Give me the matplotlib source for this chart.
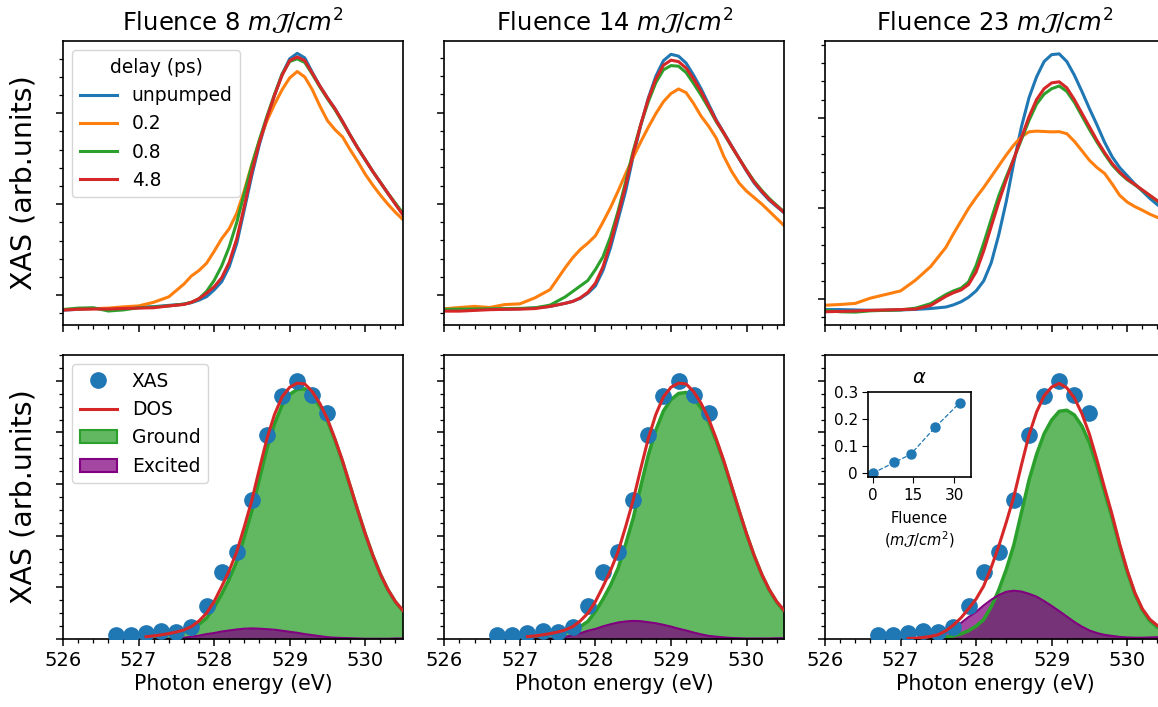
import matplotlib
matplotlib.use("Agg")
import numpy as np
import matplotlib.pyplot as plt
from matplotlib.ticker import MultipleLocator, NullFormatter, FixedLocator, FixedFormatter
from matplotlib.lines import Line2D
from matplotlib.patches import Patch

# ---------------------------------------------------------------- data
fluences = [8, 14, 23]
delay_labels = ["unpumped", "0.2", "0.8", "4.8"]
delay_colors = ["tab:blue", "tab:orange", "tab:green", "tab:red"]

# photon energy grid of the time-resolved spectra (eV)
energy = [526.0, 526.2, 526.4, 526.6, 526.8, 527.0, 527.2, 527.4, 527.6, 527.7,
          527.8, 527.9, 528.0, 528.1, 528.2, 528.3, 528.4, 528.5, 528.6, 528.7,
          528.8, 528.9, 529.0, 529.1, 529.2, 529.3, 529.4, 529.5, 529.6, 529.7,
          529.8, 529.9, 530.0, 530.1, 530.2, 530.3, 530.4, 530.5]

# fluence 8 mJ/cm2
f8_unpumped = [-0.083, -0.079, -0.074, -0.075, -0.073, -0.068, -0.064, -0.057, -0.050, -0.042,
               -0.028, -0.009, 0.028, 0.073, 0.156, 0.284, 0.470, 0.660, 0.830, 0.970,
               1.100, 1.215, 1.300, 1.330, 1.305, 1.225, 1.150, 1.085, 1.025, 0.955,
               0.880, 0.810, 0.745, 0.680, 0.620, 0.560, 0.500, 0.445]
f8_d02 = [-0.080, -0.077, -0.075, -0.072, -0.065, -0.060, -0.040, -0.010, 0.060, 0.105,
          0.135, 0.175, 0.240, 0.310, 0.365, 0.450, 0.575, 0.720, 0.850, 0.960,
          1.050, 1.130, 1.195, 1.230, 1.200, 1.130, 1.040, 0.960, 0.910, 0.870,
          0.800, 0.735, 0.665, 0.605, 0.550, 0.500, 0.455, 0.415]
f8_d08 = [-0.080, -0.072, -0.070, -0.088, -0.082, -0.070, -0.066, -0.060, -0.050, -0.040,
          -0.020, 0.020, 0.080, 0.160, 0.265, 0.400, 0.560, 0.715, 0.855, 0.985,
          1.105, 1.215, 1.285, 1.300, 1.280, 1.215, 1.145, 1.080, 1.020, 0.950,
          0.880, 0.810, 0.745, 0.680, 0.620, 0.560, 0.505, 0.450]
f8_d48 = [-0.083, -0.078, -0.077, -0.077, -0.074, -0.072, -0.070, -0.060, -0.052, -0.040,
          -0.020, 0.010, 0.045, 0.095, 0.180, 0.310, 0.490, 0.680, 0.840, 0.975,
          1.100, 1.210, 1.290, 1.310, 1.290, 1.220, 1.150, 1.085, 1.025, 0.955,
          0.880, 0.810, 0.745, 0.680, 0.620, 0.560, 0.500, 0.440]

# fluence 14 mJ/cm2
f14_unpumped = [-0.082, -0.080, -0.079, -0.078, -0.077, -0.075, -0.070, -0.062, -0.045, -0.034,
                -0.018, 0.010, 0.050, 0.135, 0.260, 0.415, 0.570, 0.760, 0.930, 1.080,
                1.200, 1.285, 1.320, 1.310, 1.272, 1.205, 1.130, 1.045, 0.960, 0.890,
                0.820, 0.750, 0.680, 0.615, 0.565, 0.520, 0.485, 0.450]
f14_d02 = [-0.075, -0.068, -0.062, -0.068, -0.052, -0.048, -0.015, 0.030, 0.150, 0.205,
           0.250, 0.285, 0.325, 0.400, 0.480, 0.570, 0.665, 0.755, 0.840, 0.920,
           0.995, 1.060, 1.105, 1.130, 1.110, 1.050, 0.980, 0.925, 0.860, 0.760,
           0.680, 0.615, 0.570, 0.535, 0.500, 0.460, 0.420, 0.380]
f14_d08 = [-0.078, -0.077, -0.076, -0.075, -0.074, -0.073, -0.070, -0.055, -0.010, 0.020,
           0.050, 0.080, 0.140, 0.210, 0.320, 0.460, 0.620, 0.790, 0.935, 1.060,
           1.165, 1.235, 1.258, 1.255, 1.220, 1.160, 1.095, 1.025, 0.950, 0.885,
           0.815, 0.750, 0.685, 0.625, 0.575, 0.530, 0.492, 0.455]
f14_d48 = [-0.088, -0.088, -0.084, -0.080, -0.078, -0.077, -0.074, -0.062, -0.045, -0.035,
           -0.015, 0.015, 0.065, 0.155, 0.285, 0.440, 0.600, 0.775, 0.935, 1.075,
           1.185, 1.260, 1.288, 1.280, 1.245, 1.185, 1.115, 1.035, 0.955, 0.888,
           0.818, 0.750, 0.683, 0.620, 0.570, 0.525, 0.488, 0.452]

# fluence 23 mJ/cm2
f23_unpumped = [-0.058, -0.058, -0.060, -0.062, -0.062, -0.060, -0.057, -0.052, -0.044, -0.032,
                -0.015, 0.010, 0.045, 0.100, 0.200, 0.355, 0.540, 0.755, 0.950, 1.110,
                1.225, 1.310, 1.348, 1.352, 1.310, 1.235, 1.145, 1.050, 0.960, 0.865,
                0.785, 0.725, 0.680, 0.635, 0.595, 0.555, 0.520, 0.485]
f23_d02 = [-0.034, -0.030, -0.024, 0.005, 0.025, 0.045, 0.105, 0.180, 0.285, 0.360,
           0.430, 0.500, 0.560, 0.615, 0.675, 0.735, 0.795, 0.850, 0.895, 0.922,
           0.926, 0.924, 0.922, 0.923, 0.912, 0.870, 0.818, 0.765, 0.725, 0.693,
           0.635, 0.572, 0.535, 0.510, 0.490, 0.468, 0.450, 0.435]
f23_d08 = [-0.062, -0.070, -0.072, -0.065, -0.062, -0.060, -0.050, -0.025, 0.025, 0.045,
           0.060, 0.095, 0.185, 0.307, 0.440, 0.570, 0.675, 0.775, 0.880, 0.985,
           1.075, 1.130, 1.160, 1.175, 1.145, 1.085, 1.010, 0.935, 0.865, 0.800,
           0.740, 0.695, 0.658, 0.630, 0.600, 0.570, 0.540, 0.510]
f23_d48 = [-0.070, -0.068, -0.066, -0.062, -0.060, -0.058, -0.055, -0.035, 0.015, 0.035,
           0.050, 0.080, 0.150, 0.265, 0.400, 0.535, 0.660, 0.775, 0.890, 1.005,
           1.100, 1.160, 1.192, 1.198, 1.165, 1.100, 1.025, 0.950, 0.875, 0.808,
           0.748, 0.700, 0.662, 0.632, 0.602, 0.572, 0.542, 0.512]

spectra = {
    8: [f8_unpumped, f8_d02, f8_d08, f8_d48],
    14: [f14_unpumped, f14_d02, f14_d08, f14_d48],
    23: [f23_unpumped, f23_d02, f23_d08, f23_d48],
}
spectra_ylim = {8: (-0.165, 1.398), 14: (-0.164, 1.393), 23: (-0.143, 1.423)}

# measured XAS points used for the decomposition
xas_energy = [526.7, 526.9, 527.1, 527.3, 527.5, 527.7, 527.9, 528.1,
              528.3, 528.5, 528.7, 528.9, 529.1, 529.3, 529.5]
xas_value = [0.014, 0.017, 0.023, 0.030, 0.026, 0.048, 0.129, 0.260,
             0.338, 0.538, 0.792, 0.942, 1.000, 0.944, 0.876]

# energy grid of the ground / excited state components
fit_energy = [527.1, 527.2, 527.3, 527.4, 527.5, 527.6, 527.7, 527.8, 527.9, 528.0,
              528.1, 528.2, 528.3, 528.4, 528.5, 528.6, 528.7, 528.8, 528.9, 529.0,
              529.1, 529.2, 529.3, 529.4, 529.5, 529.6, 529.7, 529.8, 529.9, 530.0,
              530.1, 530.2, 530.3, 530.4, 530.5]

ground_8 = [0.009, 0.012, 0.015, 0.020, 0.025, 0.030, 0.039, 0.057, 0.081, 0.122,
            0.174, 0.232, 0.301, 0.395, 0.497, 0.620, 0.739, 0.834, 0.906, 0.947,
            0.967, 0.969, 0.943, 0.901, 0.845, 0.770, 0.686, 0.592, 0.498, 0.407,
            0.324, 0.251, 0.191, 0.143, 0.108]
excited_8 = [0.000, 0.000, 0.001, 0.001, 0.002, 0.005, 0.009, 0.013, 0.019, 0.023,
             0.029, 0.033, 0.037, 0.040, 0.041, 0.040, 0.038, 0.036, 0.032, 0.028,
             0.024, 0.019, 0.015, 0.011, 0.007, 0.005, 0.004, 0.003, 0.002, 0.001,
             0.001, 0.001, 0.001, 0.002, 0.002]

ground_14 = [0.009, 0.011, 0.015, 0.019, 0.024, 0.027, 0.033, 0.048, 0.068, 0.106,
             0.154, 0.208, 0.274, 0.367, 0.468, 0.591, 0.712, 0.809, 0.883, 0.927,
             0.951, 0.955, 0.933, 0.894, 0.840, 0.766, 0.684, 0.591, 0.497, 0.406,
             0.323, 0.250, 0.190, 0.142, 0.107]
excited_14 = [0.000, 0.001, 0.001, 0.002, 0.003, 0.008, 0.015, 0.022, 0.032, 0.039,
              0.049, 0.057, 0.064, 0.068, 0.070, 0.069, 0.065, 0.061, 0.055, 0.048,
              0.040, 0.033, 0.025, 0.018, 0.012, 0.009, 0.006, 0.004, 0.003, 0.002,
              0.002, 0.002, 0.002, 0.003, 0.003]

ground_23 = [0.000, 0.000, 0.001, 0.002, 0.004, 0.007, 0.012, 0.020, 0.032, 0.050,
             0.075, 0.125, 0.190, 0.270, 0.365, 0.490, 0.615, 0.715, 0.795, 0.848,
             0.882, 0.886, 0.868, 0.825, 0.760, 0.670, 0.570, 0.470, 0.360, 0.260,
             0.175, 0.112, 0.070, 0.045, 0.030]
excited_23 = [0.002, 0.003, 0.005, 0.008, 0.013, 0.025, 0.042, 0.062, 0.085, 0.105,
              0.130, 0.152, 0.170, 0.183, 0.187, 0.184, 0.175, 0.164, 0.147, 0.128,
              0.108, 0.087, 0.066, 0.048, 0.033, 0.023, 0.016, 0.012, 0.008, 0.006,
              0.005, 0.005, 0.006, 0.007, 0.008]

components = {8: (ground_8, excited_8), 14: (ground_14, excited_14), 23: (ground_23, excited_23)}

# excited-state fraction versus fluence
alpha_fluence = [0, 8, 14, 23, 32]
alpha_value = [0.0, 0.04, 0.07, 0.17, 0.26]

# ---------------------------------------------------------------- figure
W, H = 1158, 707
fig = plt.figure(figsize=(W / 100, H / 100), dpi=100)

col_left = [63, 444.3, 825]
ax_w = 340
top_row = (41, 325)
bot_row = (355, 639)


def add_axes_px(left, top, width, bottom):
    return fig.add_axes([left / W, 1 - bottom / H, width / W, (bottom - top) / H])


unit = r"$m\mathcal{J}/cm^2$"


def style_axes(ax):
    for s in ax.spines.values():
        s.set_linewidth(1.2)
    ax.tick_params(which="major", direction="out", length=5, width=1.1, labelsize=14)
    ax.tick_params(which="minor", direction="out", length=3, width=0.9)
    ax.xaxis.set_major_locator(MultipleLocator(1))
    ax.xaxis.set_minor_locator(MultipleLocator(0.2))
    ax.set_xlim(526, 530.5)


E_top = np.array(energy)
E_fit = np.array(fit_energy)

for i, f in enumerate(fluences):
    # time-resolved spectra
    ax = add_axes_px(col_left[i], top_row[0], ax_w, top_row[1])
    style_axes(ax)
    for spec, lab, col in zip(spectra[f], delay_labels, delay_colors):
        ax.plot(E_top, spec, color=col, lw=2.2, label=lab)
    ax.set_ylim(*spectra_ylim[f])
    ax.yaxis.set_major_locator(MultipleLocator(0.5))
    ax.yaxis.set_minor_locator(MultipleLocator(0.1))
    ax.yaxis.set_major_formatter(NullFormatter())
    ax.xaxis.set_major_formatter(NullFormatter())
    ax.set_title(f"Fluence {f} " + unit, fontsize=17.5, pad=7)
    if i == 0:
        ax.set_ylabel("XAS (arb.units)", fontsize=20.5, labelpad=10)
        ax.legend(title="delay (ps)", loc="upper left", fontsize=13.4,
                  title_fontsize=13.4, handlelength=2.0)

    # ground / excited decomposition
    ax2 = add_axes_px(col_left[i], bot_row[0], ax_w, bot_row[1])
    style_axes(ax2)
    ground, excited = components[f]
    ground = np.array(ground)
    excited = np.array(excited)
    ax2.fill_between(E_fit, 0, ground, color="tab:green", alpha=0.75, lw=0)
    ax2.fill_between(E_fit, 0, excited, color="purple", alpha=0.72, lw=0)
    ax2.plot(E_fit, ground, color="tab:green", lw=2.5)
    ax2.plot(E_fit, excited, color="purple", lw=1.5)
    ax2.plot(xas_energy, xas_value, "o", color="tab:blue", ms=11, zorder=4)
    ax2.plot(E_fit, ground + excited, color="tab:red", lw=2.2, zorder=5)
    ax2.set_ylim(0, 1.1)
    ax2.yaxis.set_major_locator(MultipleLocator(0.2))
    ax2.yaxis.set_minor_locator(MultipleLocator(0.05))
    ax2.yaxis.set_major_formatter(NullFormatter())
    ax2.set_xlabel("Photon energy (eV)", fontsize=14.8, labelpad=3)
    if i == 0:
        ax2.set_ylabel("XAS (arb.units)", fontsize=20.5, labelpad=10)
        handles = [
            Line2D([], [], ls="none", marker="o", color="tab:blue", ms=11),
            Line2D([], [], color="tab:red", lw=2.2),
            Patch(facecolor=(0.173, 0.627, 0.173, 0.75), edgecolor="tab:green", lw=1.5),
            Patch(facecolor=(0.502, 0.0, 0.502, 0.72), edgecolor="purple", lw=1.5),
        ]
        ax2.legend(handles, ["XAS", "DOS", "Ground", "Excited"], loc="upper left",
                   fontsize=13.4, handlelength=2.0)

# inset: excited-state fraction
axi = fig.add_axes([868.3 / W, 1 - 477.3 / H, 102.4 / W, 85.6 / H])
axi.plot(alpha_fluence, alpha_value, "o--", color="tab:blue", ms=6.5, lw=0.9)
axi.set_xlim(-1.6, 36.1)
axi.set_ylim(-0.015, 0.302)
axi.xaxis.set_major_locator(FixedLocator([0, 15, 30]))
axi.yaxis.set_major_locator(FixedLocator([0, 0.1, 0.2, 0.3]))
axi.yaxis.set_major_formatter(FixedFormatter(["0", "0.1", "0.2", "0.3"]))
axi.tick_params(labelsize=11, length=4)
for s in axi.spines.values():
    s.set_linewidth(1.2)
axi.set_title(r"$\alpha$", fontsize=14, pad=6)
axi.set_xlabel("Fluence\n(" + unit + ")", fontsize=10.5, labelpad=6)

fig.savefig("out.png", dpi=100)
